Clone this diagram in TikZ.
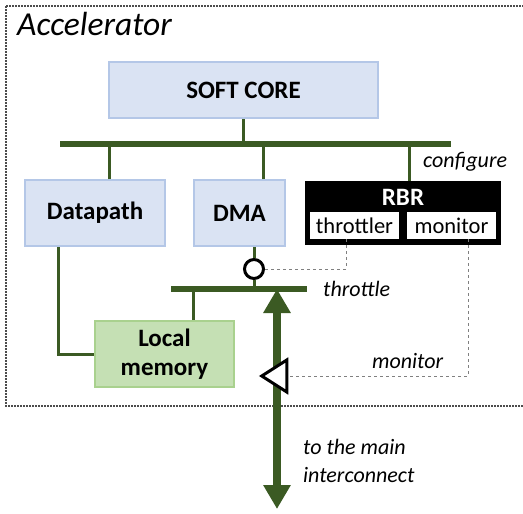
\documentclass[tikz,border=0pt]{standalone}
\usepackage{fontspec}
\setmainfont{Carlito}
\usepackage{tikz}
\usetikzlibrary{arrows.meta, shapes.geometric}

\definecolor{albastru}{HTML}{DAE3F3}
\definecolor{albastruc}{HTML}{B4C7E7}
\definecolor{verde}{HTML}{C5E0B4}
\definecolor{verdec}{HTML}{A9D18E}
\definecolor{magis}{HTML}{3B5A23}

\begin{document}
\begin{tikzpicture}[x=1pt, y=-1pt]
        \tikzstyle{every node} = [font=\fontsize{22.5}{26}\selectfont]
        \tikzstyle{bloc}       = [draw=albastruc, fill=albastru, line width=2pt, inner sep=0pt, font=\fontsize{25}{29}\selectfont\bfseries]
        \tikzstyle{memorie}    = [draw=verdec, fill=verde, line width=2pt, inner sep=0pt, align=center, font=\fontsize{25}{29}\selectfont\bfseries]
        \tikzstyle{magistrala} = [draw=magis, line width=6pt]
        \tikzstyle{legatura}   = [draw=magis, line width=3pt]
        \tikzstyle{punctat}    = [draw=gray, line width=1pt, dash pattern=on 3pt off 3pt]
        \tikzstyle{eticheta}   = [anchor=west, inner sep=0pt, font=\fontsize{22}{26}\selectfont\itshape]

        \useasboundingbox (0,0) rectangle (523,514);

        % Chenarul acceleratorului.
        \draw[gray!60!black, line width=1.5pt, dash pattern=on 1.5pt off 1.5pt] (6,6) rectangle (540,406);
        \node[anchor=west, inner sep=0pt, font=\fontsize{33.5}{38}\selectfont\itshape] (titlu) at (17,24) {Accelerator};

        % Blocurile.
        \node[bloc, minimum width=269pt, minimum height=56pt] (nucleu) at (243.5,90) {SOFT CORE};
        \node[bloc, minimum width=140pt, minimum height=66pt] (datapath) at (95,213) {Datapath};
        \node[bloc, minimum width=91pt, minimum height=66pt] (dma) at (239.5,213) {DMA};
        \node[memorie, minimum width=139pt, minimum height=66pt] (locala) at (164.5,354) {Local\\memory};

        \node[fill=black, minimum width=196pt, minimum height=64pt, inner sep=0pt] (rbr) at (403,213) {};
        \node[text=white, font=\fontsize{25}{29}\selectfont\bfseries, inner sep=0pt] (rbrtext) at (403,197) {RBR};
        \node[fill=white, minimum width=89pt, minimum height=27pt, inner sep=0pt] (throttler) at (354.5,225.5) {throttler};
        \node[fill=white, minimum width=89pt, minimum height=27pt, inner sep=0pt] (monbox) at (451.5,225.5) {monitor};

        % Magistralele.
        \coordinate (busA1) at (60,144);
        \coordinate (busA2) at (451,144);
        \coordinate (busB1) at (171,289);
        \coordinate (busB2) at (307,289);
        \draw[magistrala] (busA1) -- (busA2);
        \draw[magistrala] (busB1) -- (busB2);

        % Legaturile.
        \draw[legatura] (nucleu.south) -- (nucleu.south |- busA1);
        \draw[legatura] ([xshift=14pt]datapath.north) -- ([xshift=14pt]datapath.north |- busA1);
        \draw[legatura] ([xshift=23.5pt]dma.north) -- ([xshift=23.5pt]dma.north |- busA1);
        \draw[legatura] ([xshift=6pt]rbr.north) -- ([xshift=6pt]rbr.north |- busA1);
        \draw[legatura] ([xshift=28.5pt]locala.north) -- ([xshift=28.5pt]locala.north |- busB1);
        \draw[legatura] ([xshift=-37pt]datapath.south) |- (locala.west);

        \node[circle, draw=black, fill=white, line width=3pt, minimum size=19pt, inner sep=0pt] (strangulare) at (254,269) {};
        \draw[legatura] ([xshift=14.5pt]dma.south) -- (strangulare.north);
        \draw[legatura] (strangulare.south) -- (strangulare.south |- busB1);

        % Sageata spre interconectarea principala.
        \coordinate (sus) at (277,289);
        \coordinate (jos) at (277,509);
        \draw[magis, line width=8pt, {Triangle[length=24pt, width=26pt]}-{Triangle[length=24pt, width=26pt]}] (sus) -- (jos);

        \node[isosceles triangle, shape border rotate=180, draw=black, fill=white, line width=3pt,
              minimum height=25pt, minimum width=32pt, isosceles triangle stretches, inner sep=0pt] (sonda) at (278,376) {};

        % Liniile punctate.
        \draw[punctat] (throttler.south -| 346,0) |- (strangulare.east);
        \draw[punctat] (monbox.south -| 468,0) |- (sonda.east);

        % Etichete.
        \node[eticheta] (configure) at (423,162) {configure};
        \node[eticheta] (throttle) at (323,289) {throttle};
        \node[eticheta] (monitor) at (372,361) {monitor};
        \node[eticheta] (spre) at (303,447) {to the main};
        \node[eticheta] (spre2) at (303,475) {interconnect};
    \end{tikzpicture}
\end{document}
